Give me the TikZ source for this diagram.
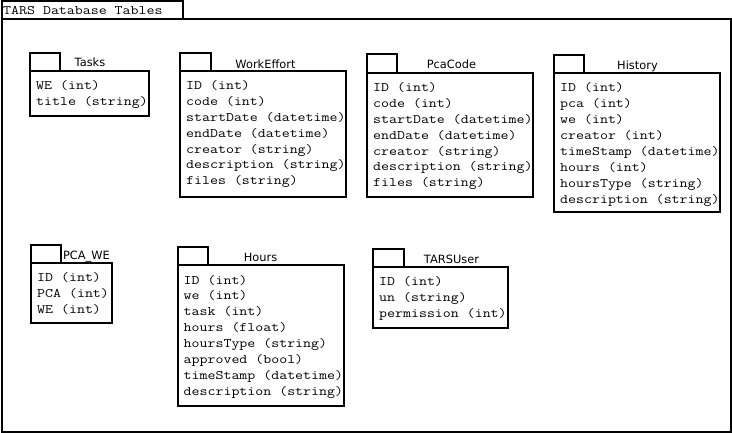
\documentclass[tikz,border=0pt]{standalone}
\usepackage{fontspec}
\usepackage{graphicx}
\newfontfamily\labf{DejaVu Sans}
\newcommand\monotext[1]{\scalebox{1.19}[1]{#1}}
\tikzset{
  frame/.style={draw=black, line width=2pt},
  rowtext/.style={anchor=base west, inner sep=0pt, font=\ttfamily\fontsize{13}{15.8}\selectfont, text=black},
  tabtitle/.style={anchor=base, inner sep=0pt, font=\labf\fontsize{11.4}{13}\selectfont, text=black}
}
% #1 name, #2 L, #3 T, #4 R, #5 B, #6 tabR, #7 tabT, #8 label x, #9 label baseline
\newcommand\dbtable[9]{%
  \draw[frame] (#2,#7) rectangle (#6,#3);
  \draw[frame] (#2,#3) rectangle (#4,#5);
  \coordinate (#1-nw) at (#2,#3);
  \def\curname{#1}\def\curL{#2}\def\curT{#3}\def\curlx{#8}\def\curlb{#9}%
  \dbtablerest}
\newcommand\dbtablerest[2]{%
  \node[tabtitle] (\curname-title) at (\curlx,\curlb) {#1};
  \foreach \r [count=\i from 0] in {#2} {
    \node[rowtext] (\curname-row\i) at ({\curL+6},{\curT+18.5+15.9*\i}) {\monotext{\r}};
  }}
\begin{document}
\begin{tikzpicture}[x=1pt,y=-1pt]
\useasboundingbox (0,0) rectangle (732,433);
\fill[white] (0,0) rectangle (732,433);
% outer package frame
\draw[frame] (1.5,1.5) rectangle (182.5,19.5);
\draw[frame] (1.5,19.5) rectangle (730.5,431.5);
\node[rowtext] (maintitle) at (3,15) {\monotext{TARS Database Tables}};

\dbtable{tasks}{30}{71.5}{149}{116}{60}{53.5}{90}{66.7}{Tasks}{{WE (int)},{title (string)}}
\dbtable{workeffort}{180}{71}{346}{197}{210.5}{53.5}{265.5}{68.3}{WorkEffort}{{ID (int)},{code (int)},{startDate (datetime)},{endDate (datetime)},{creator (string)},{description (string)},{files (string)}}
\dbtable{pcacode}{367}{73}{533}{197}{397}{54.5}{451.5}{68.5}{PcaCode}{{ID (int)},{code (int)},{startDate (datetime)},{endDate (datetime)},{creator (string)},{description (string)},{files (string)}}
\dbtable{history}{554}{73.5}{720}{212}{584}{55}{637.5}{70}{History}{{ID (int)},{pca (int)},{we (int)},{creator (int)},{timeStamp (datetime)},{hours (int)},{hoursType (string)},{description (string)}}
\dbtable{pcawe}{31}{263}{112}{323}{61}{245}{86.5}{260}{PCA\_WE}{{ID (int)},{PCA (int)},{WE (int)}}
\dbtable{hours}{177.5}{265.5}{344}{405.5}{208}{247.5}{260.5}{261.5}{Hours}{{ID (int)},{we (int)},{task (int)},{hours (float)},{hoursType (string)},{approved (bool)},{timeStamp (datetime)},{description (string)}}
\dbtable{tarsuser}{373}{267.5}{508}{327.5}{403.5}{249.5}{451.5}{264}{TARSUser}{{ID (int)},{un (string)},{permission (int)}}
\end{tikzpicture}
\end{document}
